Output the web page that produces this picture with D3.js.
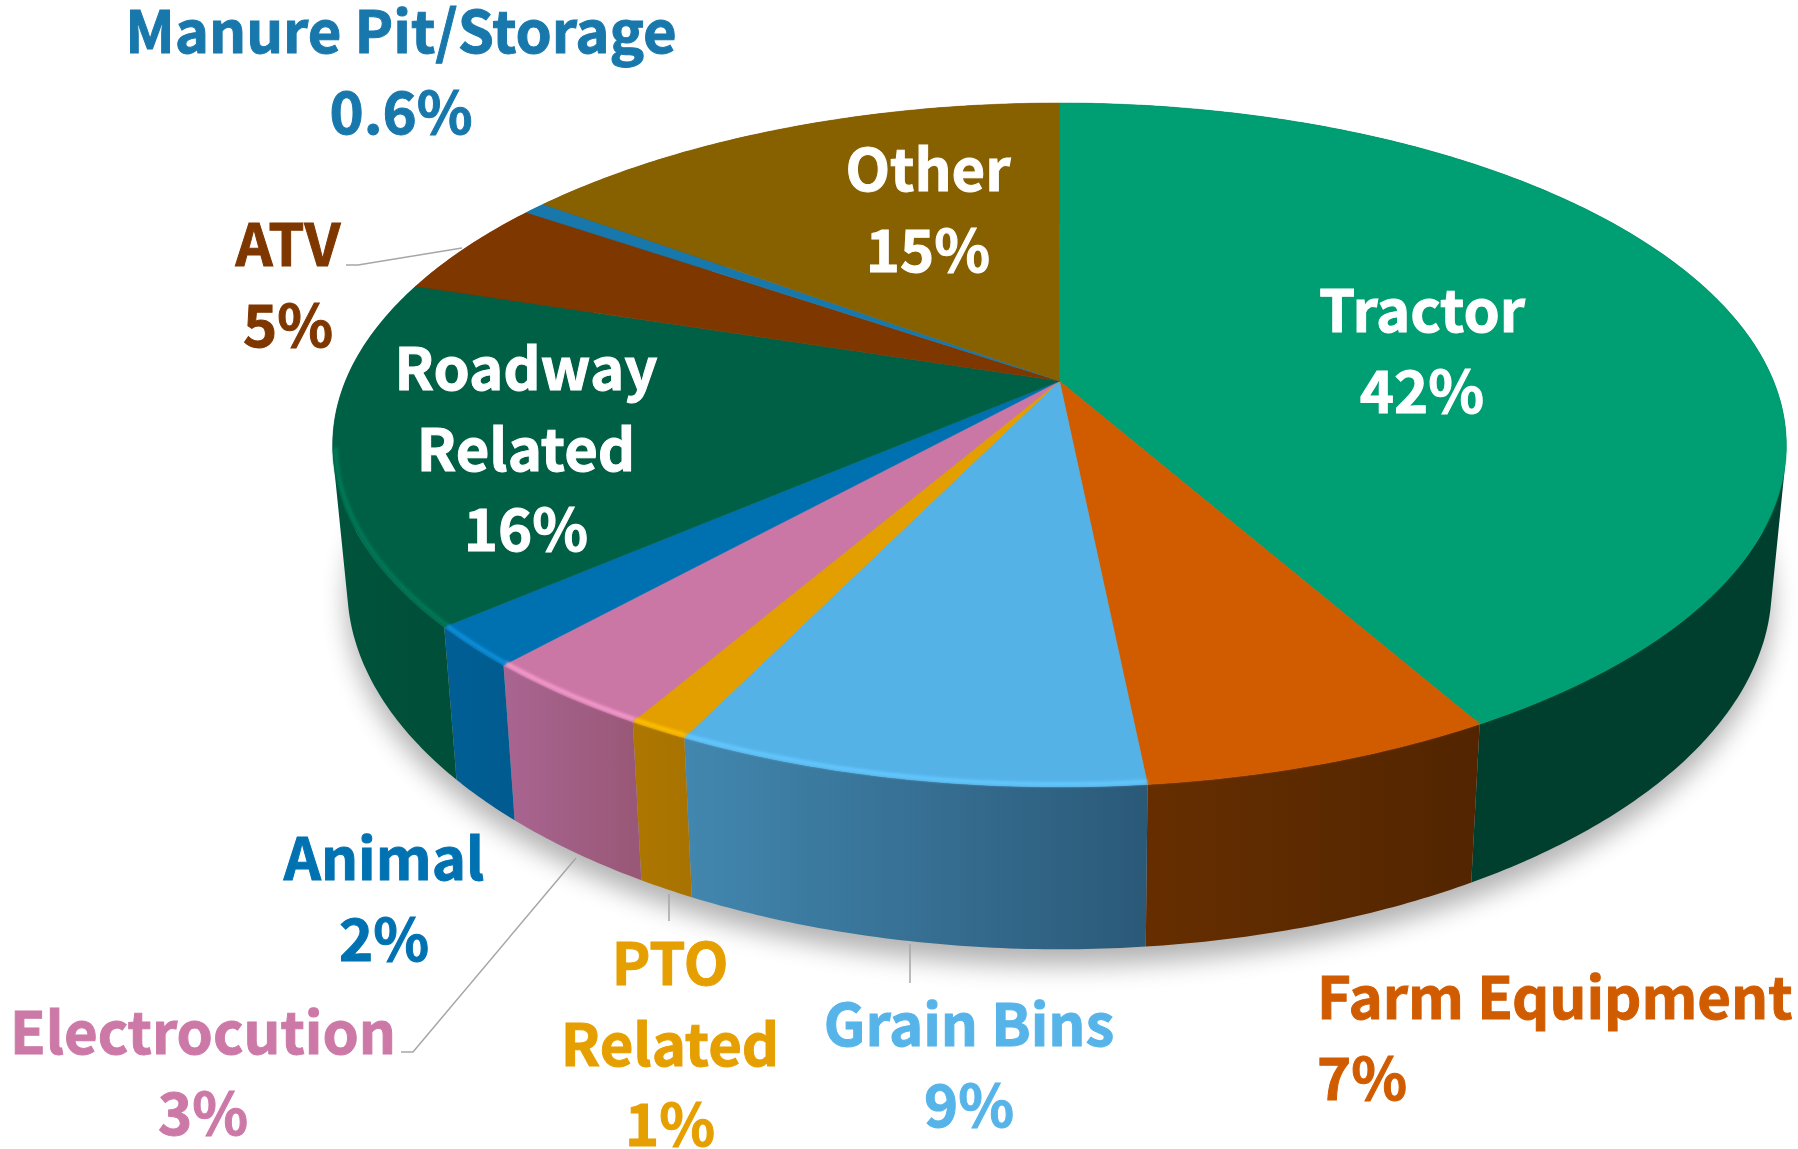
<!DOCTYPE html>
<html>
<head>
<meta charset="utf-8">
<script src="https://cdn.jsdelivr.net/npm/d3@7/dist/d3.min.js"></script>
<style>
html,body{margin:0;padding:0;background:#fff;}
svg{display:block;}
text{font-family:"Noto Sans CJK JP","Noto Sans",sans-serif;font-weight:700;}
</style>
</head>
<body>
<svg id="chart" width="1798" height="1149"></svg>
<script>
const categories = ["Tractor","Farm Equipment","Grain Bins","PTO Related","Electrocution","Animal","Roadway Related","ATV","Manure Pit/Storage","Other"];
const sliceValues = [41.8,6.6,8.8,1.15,3.35,1.95,16.25,4.65,0.6,14.85];
const valueLabels = ["42%","7%","9%","1%","3%","2%","16%","5%","0.6%","15%"];
const labelLines = [["Tractor"],["Farm Equipment"],["Grain Bins"],["PTO","Related"],["Electrocution"],["Animal"],["Roadway","Related"],["ATV"],["Manure Pit/Storage"],["Other"]];

const topColors = ["#009E73","#D15C00","#54B2E7","#E39E00","#CA77A5","#0071B0","#006046","#7F3700","#1878AC","#876000"];
const labelColors = ["#ffffff","#D15C00","#56B4E9","#E69F00","#CC79A7","#0072B2","#ffffff","#7F3700","#1878AC","#ffffff"];
const wallLeft = ["#003F2E","#662E00","#4287AF","#AD7700","#A96591","#005F96","#00533C","#662C00","#105E88","#6A4C00"];
const wallRight = ["#003F2E","#522500","#2B5978","#A87300","#9A5878","#005C90","#004F38","#662C00","#105E88","#6A4C00"];
const rimColors = ["#009E73","#D15C00","#63C8FF","#FFC000","#F79ACF","#0C90DC","#007A58","#7F3700","#1878AC","#876000"];

// layout of the labels: anchor x, first baseline, text-anchor
const labelX = [1422,1317,969,670,203,384,526,288,401,928];
const labelY = [332,1019,1046,985,1054,880,390,266,53,191];
const labelAnchor = ["middle","start","middle","middle","middle","middle","middle","middle","middle","middle"];
const lineStep = 80.5;
const fontPx = 58;
const leaderLines = [
  [[346,265],[358,265],[462,248]],
  [[401,1052],[413,1052],[576,858]],
  [[669,894],[669,921]],
  [[910,944],[910,983]]
];

// perspective projection of the pie disc
const cx = 1059.5, cy = 381, A = 714, B = 330, k = 0.187;
const depth = 138, bottomScaleX = 0.98, bottomScaleY = 1.06;
function project(a) {
  const x = Math.sin(a), y = -Math.cos(a), w = 1 - k * y;
  return [cx + A * x / w, cy + B * y / w];
}
function projectBottom(a) {
  const [x, y] = project(a);
  return [cx + bottomScaleX * (x - cx), cy + depth + bottomScaleY * (y - cy)];
}
const pie = d3.pie().sort(null)(sliceValues);
const line = d3.line();
const arcAngles = d => {
  const n = Math.max(4, Math.ceil((d.endAngle - d.startAngle) / 0.01));
  return d3.range(n + 1).map(i => d.startAngle + (d.endAngle - d.startAngle) * i / n);
};

const svg = d3.select("#chart");
const defs = svg.append("defs");
defs.append("filter").attr("id","shadowBlur").attr("x","-10%").attr("y","-10%").attr("width","120%").attr("height","120%")
  .append("feGaussianBlur").attr("stdDeviation",13);
defs.append("filter").attr("id","rimBlur").attr("filterUnits","userSpaceOnUse").attr("x",0).attr("y",0).attr("width",1798).attr("height",1149)
  .append("feGaussianBlur").attr("stdDeviation",1.5);

// shadow
const full = d3.range(0, 2 * Math.PI, 0.01);
svg.append("path")
  .attr("d", line(full.map(projectBottom)) + "Z")
  .attr("transform","translate(0,16)")
  .attr("fill","#000").attr("opacity",0.3)
  .attr("filter","url(#shadowBlur)");

// walls: one consistently oriented quad per arc step, so the band also fills past the silhouette
pie.forEach((d, i) => {
  const angles = arcAngles(d);
  const tops = angles.map(a => project(a));
  const bots = angles.map(projectBottom);
  const front = tops.filter(p => p[1] > cy + 65);
  const xs = (front.length ? front : tops).map(p => p[0]);
  const g = defs.append("linearGradient").attr("id","wall"+i).attr("gradientUnits","userSpaceOnUse")
    .attr("x1", d3.min(xs)).attr("x2", d3.max(xs)).attr("y1",0).attr("y2",0);
  g.append("stop").attr("offset",0).attr("stop-color",wallLeft[i]);
  g.append("stop").attr("offset",1).attr("stop-color",wallRight[i]);
  const quads = d3.pairs(d3.range(angles.length)).map(([m, n]) => {
    const q = [tops[m], tops[n], bots[n], bots[m]];
    return line(d3.polygonArea(q) < 0 ? q.slice().reverse() : q) + "Z";
  }).join("");
  svg.append("path").attr("d", quads).attr("fill","url(#wall"+i+")");
});

// top faces
pie.forEach((d, i) => {
  const pts = [[cx, cy]].concat(arcAngles(d).map(a => project(a)));
  svg.append("path").attr("d", line(pts) + "Z")
    .attr("fill", topColors[i]).attr("stroke", topColors[i]).attr("stroke-width",0.5);
});

// rim highlight, only on the front edge
const rims = svg.append("g");
pie.forEach((d, i) => {
  const pts = arcAngles(d).map(a => project(a))
    .filter(p => p[1] > cy + 65)
    .map(p => [cx + (p[0] - cx) * 0.996, cy + (p[1] - cy) * 0.993]);
  if (pts.length > 1) {
    rims.append("path").attr("d", line(pts)).attr("fill","none")
      .attr("stroke", rimColors[i]).attr("stroke-width",4).attr("stroke-linecap","butt")
      .attr("filter","url(#rimBlur)");
  }
});

// leader lines
leaderLines.forEach(pts => {
  svg.append("path").attr("d", line(pts)).attr("fill","none").attr("stroke","#a6a6a6").attr("stroke-width",1.5);
});

// labels
categories.forEach((c, i) => {
  const lines = labelLines[i].concat([valueLabels[i]]);
  const t = svg.append("text").attr("font-size",fontPx).attr("fill",labelColors[i]).attr("text-anchor",labelAnchor[i])
    .attr("stroke",labelColors[i]).attr("stroke-width",1);
  lines.forEach((s, j) => {
    t.append("tspan").attr("x",labelX[i]).attr("y",labelY[i] + j * lineStep).text(s);
  });
});
</script>
</body>
</html>
